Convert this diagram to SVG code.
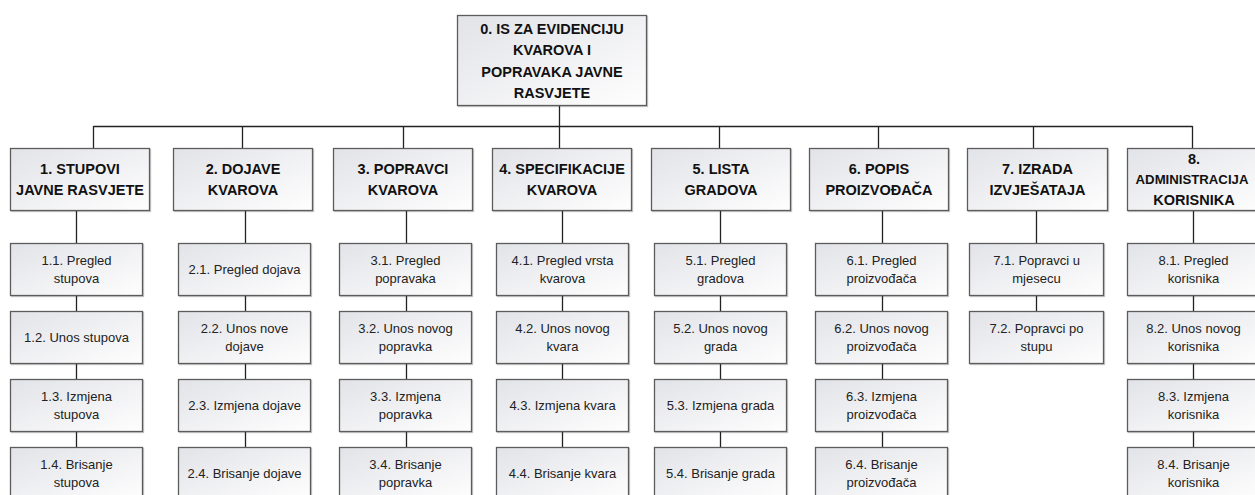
<svg xmlns="http://www.w3.org/2000/svg" width="1255" height="495" viewBox="0 0 1255 495">
<defs>
<linearGradient id="g" x1="0" y1="0" x2="1" y2="1">
<stop offset="0" stop-color="#e2e3e8"/>
<stop offset="1" stop-color="#fefefe"/>
</linearGradient>
<filter id="sh" x="-5%" y="-5%" width="115%" height="120%">
<feDropShadow dx="1" dy="1" stdDeviation="0.7" flood-color="#000" flood-opacity="0.25"/>
</filter>
</defs>
<style>
.box{fill:url(#g);stroke:#5c5c5c;stroke-width:1.3;filter:url(#sh)}
.t0,.t1{font-family:"Liberation Sans",Arial,sans-serif;font-weight:bold;font-size:14.5px;fill:#111;text-anchor:middle;dominant-baseline:central}
.t8{font-family:"Liberation Sans",Arial,sans-serif;font-weight:bold;font-size:13.2px;fill:#111;text-anchor:middle;dominant-baseline:central}
.t2{font-family:"Liberation Sans",Arial,sans-serif;font-size:13px;fill:#222;text-anchor:middle;dominant-baseline:central}
.c{stroke:#222;stroke-width:1.3;fill:none}
</style>
<rect width="1255" height="495" fill="#fff"/>
<g id="connectors">
<path class="c" d="M559.5 106 V148 M93.5 126.5 H1192.5 M93.5 126 V148 M242.5 126 V148 M403.5 126 V148 M719.5 126 V148 M878.5 126 V148 M1033.5 126 V148 M1192.5 126 V148"/>
<path class="c" d="M76.5 211 V447 M245.5 211 V447 M406.5 211 V447 M562.5 211 V447 M720.5 211 V447 M882.5 211 V447 M1036.5 211 V311 M1193.5 211 V447"/>
</g>
<g id="n0"><rect class="box" x="457.5" y="15.5" width="189" height="90"/>
<text class="t0" x="552" y="28.5">0. IS ZA EVIDENCIJU</text><text class="t0" x="552" y="50">KVAROVA I</text><text class="t0" x="552" y="71.5">POPRAVAKA JAVNE</text><text class="t0" x="552" y="93">RASVJETE</text></g>

<g id="n1"><rect class="box" x="10.5" y="148.5" width="139" height="62"/><text class="t1" x="80" y="169">1. STUPOVI</text><text class="t1" x="80" y="190">JAVNE RASVJETE</text></g>
<g id="n1_1"><rect class="box" x="10.5" y="243.5" width="132" height="52"/><text class="t2" x="76.5" y="260.5">1.1. Pregled</text><text class="t2" x="76.5" y="278.5">stupova</text></g>
<g id="n1_2"><rect class="box" x="10.5" y="311.5" width="132" height="52"/><text class="t2" x="76.5" y="337.5">1.2. Unos stupova</text></g>
<g id="n1_3"><rect class="box" x="10.5" y="379.5" width="132" height="52"/><text class="t2" x="76.5" y="396.5">1.3. Izmjena</text><text class="t2" x="76.5" y="414.5">stupova</text></g>
<g id="n1_4"><rect class="box" x="10.5" y="447.5" width="132" height="52"/><text class="t2" x="76.5" y="464.5">1.4. Brisanje</text><text class="t2" x="76.5" y="482.5">stupova</text></g>

<g id="n2"><rect class="box" x="173.5" y="148.5" width="139" height="62"/><text class="t1" x="243" y="169">2. DOJAVE</text><text class="t1" x="243" y="190">KVAROVA</text></g>
<g id="n2_1"><rect class="box" x="178.5" y="243.5" width="132" height="52"/><text class="t2" x="244.5" y="269.5">2.1. Pregled dojava</text></g>
<g id="n2_2"><rect class="box" x="178.5" y="311.5" width="132" height="52"/><text class="t2" x="244.5" y="328.5">2.2. Unos nove</text><text class="t2" x="244.5" y="346.5">dojave</text></g>
<g id="n2_3"><rect class="box" x="178.5" y="379.5" width="132" height="52"/><text class="t2" x="244.5" y="405.5">2.3. Izmjena dojave</text></g>
<g id="n2_4"><rect class="box" x="178.5" y="447.5" width="132" height="52"/><text class="t2" x="244.5" y="473.5">2.4. Brisanje dojave</text></g>

<g id="n3"><rect class="box" x="333.5" y="148.5" width="139" height="62"/><text class="t1" x="403" y="169">3. POPRAVCI</text><text class="t1" x="403" y="190">KVAROVA</text></g>
<g id="n3_1"><rect class="box" x="339.5" y="243.5" width="132" height="52"/><text class="t2" x="405.5" y="260.5">3.1. Pregled</text><text class="t2" x="405.5" y="278.5">popravaka</text></g>
<g id="n3_2"><rect class="box" x="339.5" y="311.5" width="132" height="52"/><text class="t2" x="405.5" y="328.5">3.2. Unos novog</text><text class="t2" x="405.5" y="346.5">popravka</text></g>
<g id="n3_3"><rect class="box" x="339.5" y="379.5" width="132" height="52"/><text class="t2" x="405.5" y="396.5">3.3. Izmjena</text><text class="t2" x="405.5" y="414.5">popravka</text></g>
<g id="n3_4"><rect class="box" x="339.5" y="447.5" width="132" height="52"/><text class="t2" x="405.5" y="464.5">3.4. Brisanje</text><text class="t2" x="405.5" y="482.5">popravka</text></g>

<g id="n4"><rect class="box" x="492.5" y="148.5" width="139" height="62"/><text class="t1" x="562" y="169">4. SPECIFIKACIJE</text><text class="t1" x="562" y="190">KVAROVA</text></g>
<g id="n4_1"><rect class="box" x="496.5" y="243.5" width="132" height="52"/><text class="t2" x="562.5" y="260.5">4.1. Pregled vrsta</text><text class="t2" x="562.5" y="278.5">kvarova</text></g>
<g id="n4_2"><rect class="box" x="496.5" y="311.5" width="132" height="52"/><text class="t2" x="562.5" y="328.5">4.2. Unos novog</text><text class="t2" x="562.5" y="346.5">kvara</text></g>
<g id="n4_3"><rect class="box" x="496.5" y="379.5" width="132" height="52"/><text class="t2" x="562.5" y="405.5">4.3. Izmjena kvara</text></g>
<g id="n4_4"><rect class="box" x="496.5" y="447.5" width="132" height="52"/><text class="t2" x="562.5" y="473.5">4.4. Brisanje kvara</text></g>

<g id="n5"><rect class="box" x="651.5" y="148.5" width="139" height="62"/><text class="t1" x="721" y="169">5. LISTA</text><text class="t1" x="721" y="190">GRADOVA</text></g>
<g id="n5_1"><rect class="box" x="654.5" y="243.5" width="132" height="52"/><text class="t2" x="720.5" y="260.5">5.1. Pregled</text><text class="t2" x="720.5" y="278.5">gradova</text></g>
<g id="n5_2"><rect class="box" x="654.5" y="311.5" width="132" height="52"/><text class="t2" x="720.5" y="328.5">5.2. Unos novog</text><text class="t2" x="720.5" y="346.5">grada</text></g>
<g id="n5_3"><rect class="box" x="654.5" y="379.5" width="132" height="52"/><text class="t2" x="720.5" y="405.5">5.3. Izmjena grada</text></g>
<g id="n5_4"><rect class="box" x="654.5" y="447.5" width="132" height="52"/><text class="t2" x="720.5" y="473.5">5.4. Brisanje grada</text></g>

<g id="n6"><rect class="box" x="809.5" y="148.5" width="139" height="62"/><text class="t1" x="879" y="169">6. POPIS</text><text class="t1" x="879" y="190">PROIZVOĐAČA</text></g>
<g id="n6_1"><rect class="box" x="815.5" y="243.5" width="132" height="52"/><text class="t2" x="881.5" y="260.5">6.1. Pregled</text><text class="t2" x="881.5" y="278.5">proizvođača</text></g>
<g id="n6_2"><rect class="box" x="815.5" y="311.5" width="132" height="52"/><text class="t2" x="881.5" y="328.5">6.2. Unos novog</text><text class="t2" x="881.5" y="346.5">proizvođača</text></g>
<g id="n6_3"><rect class="box" x="815.5" y="379.5" width="132" height="52"/><text class="t2" x="881.5" y="396.5">6.3. Izmjena</text><text class="t2" x="881.5" y="414.5">proizvođača</text></g>
<g id="n6_4"><rect class="box" x="815.5" y="447.5" width="132" height="52"/><text class="t2" x="881.5" y="464.5">6.4. Brisanje</text><text class="t2" x="881.5" y="482.5">proizvođača</text></g>

<g id="n7"><rect class="box" x="967.5" y="148.5" width="140" height="62"/><text class="t1" x="1037.5" y="169">7. IZRADA</text><text class="t1" x="1037.5" y="190">IZVJEŠATAJA</text></g>
<g id="n7_1"><rect class="box" x="969.5" y="243.5" width="134" height="52"/><text class="t2" x="1036.5" y="260.5">7.1. Popravci u</text><text class="t2" x="1036.5" y="278.5">mjesecu</text></g>
<g id="n7_2"><rect class="box" x="969.5" y="311.5" width="134" height="52"/><text class="t2" x="1036.5" y="328.5">7.2. Popravci po</text><text class="t2" x="1036.5" y="346.5">stupu</text></g>

<g id="n8"><rect class="box" x="1127.5" y="148.5" width="139" height="62"/><text class="t1" x="1194" y="159">8.</text><text class="t8" x="1192" y="179.5">ADMINISTRACIJA</text><text class="t1" x="1194" y="200">KORISNIKA</text></g>
<g id="n8_1"><rect class="box" x="1127.5" y="243.5" width="132" height="52"/><text class="t2" x="1193.5" y="260.5">8.1. Pregled</text><text class="t2" x="1193.5" y="278.5">korisnika</text></g>
<g id="n8_2"><rect class="box" x="1127.5" y="311.5" width="132" height="52"/><text class="t2" x="1193.5" y="328.5">8.2. Unos novog</text><text class="t2" x="1193.5" y="346.5">korisnika</text></g>
<g id="n8_3"><rect class="box" x="1127.5" y="379.5" width="132" height="52"/><text class="t2" x="1193.5" y="396.5">8.3. Izmjena</text><text class="t2" x="1193.5" y="414.5">korisnika</text></g>
<g id="n8_4"><rect class="box" x="1127.5" y="447.5" width="132" height="52"/><text class="t2" x="1193.5" y="464.5">8.4. Brisanje</text><text class="t2" x="1193.5" y="482.5">korisnika</text></g>
</svg>
